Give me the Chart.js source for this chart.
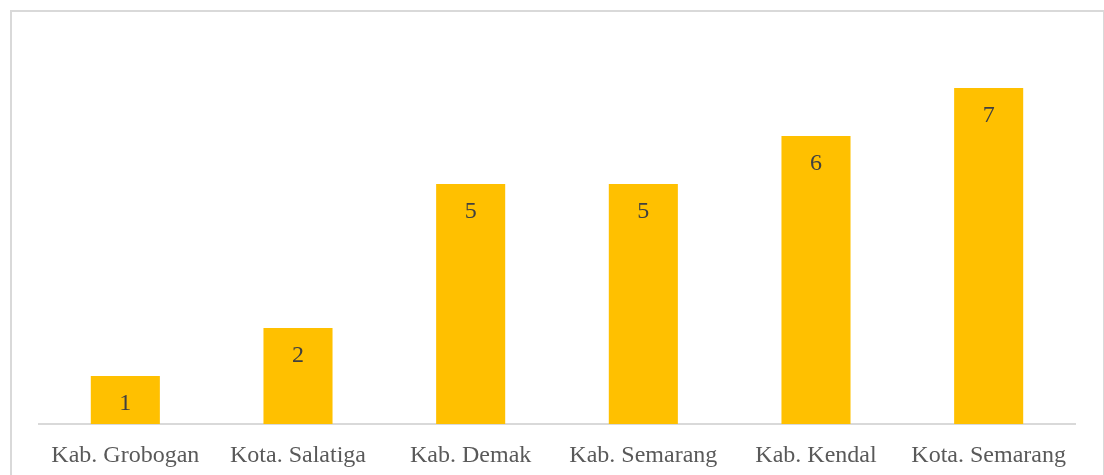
<!DOCTYPE html>
<html>
<head>
<meta charset="utf-8">
<script src="https://cdn.jsdelivr.net/npm/chart.js@4"></script>
<style>
  html, body { margin: 0; padding: 0; background: #fff; }
  #frame { position: absolute; left: 10px; top: 10px; width: 1091px; height: 475px;
           border-left: 2px solid #d9d9d9; border-top: 2px solid #d9d9d9; border-right: 2px solid #d9d9d9; }
  #chart { position: absolute; left: 0; top: 0; }
</style>
</head>
<body>
<div id="frame"></div>
<canvas id="chart" width="1104" height="475"></canvas>
<script>
const categories = ['Kab. Grobogan', 'Kota. Salatiga', 'Kab. Demak', 'Kab. Semarang', 'Kab. Kendal', 'Kota. Semarang'];
const counts = [1, 2, 5, 5, 6, 7];

const FONT = '"Liberation Serif", "Times New Roman", serif';

// value labels just under the top of each bar
const barLabels = {
  id: 'barLabels',
  afterDatasetsDraw(chart) {
    const c = chart.ctx;
    const meta = chart.getDatasetMeta(0);
    c.save();
    c.font = '24px ' + FONT;
    c.fillStyle = '#404040';
    c.textAlign = 'center';
    c.textBaseline = 'middle';
    meta.data.forEach((bar, i) => {
      c.fillText(String(counts[i]), bar.x, bar.y + 28);
    });
    c.restore();
  }
};

new Chart(document.getElementById('chart'), {
  type: 'bar',
  data: {
    labels: categories,
    datasets: [{
      data: counts,
      backgroundColor: '#ffc000',
      borderWidth: 0,
      categoryPercentage: 1,
      barPercentage: 0.4,
    }]
  },
  options: {
    responsive: false, animation: false,
    layout: { padding: { left: 39, right: 29, top: 40, bottom: 0 } },
    plugins: { legend: { display: false }, tooltip: { enabled: false } },
    scales: {
      x: {
        grid: { color: 'rgba(0,0,0,0)', drawTicks: false },
        border: { color: '#d9d9d9', width: 2 },
        ticks: { color: '#595959', font: { family: FONT, size: 24 }, padding: 17, maxRotation: 0, autoSkip: false },
        afterFit: s => { s.height = 51; }
      },
      y: {
        display: false,
        min: 0, max: 8,
      }
    }
  },
  plugins: [barLabels]
});
</script>
</body>
</html>
